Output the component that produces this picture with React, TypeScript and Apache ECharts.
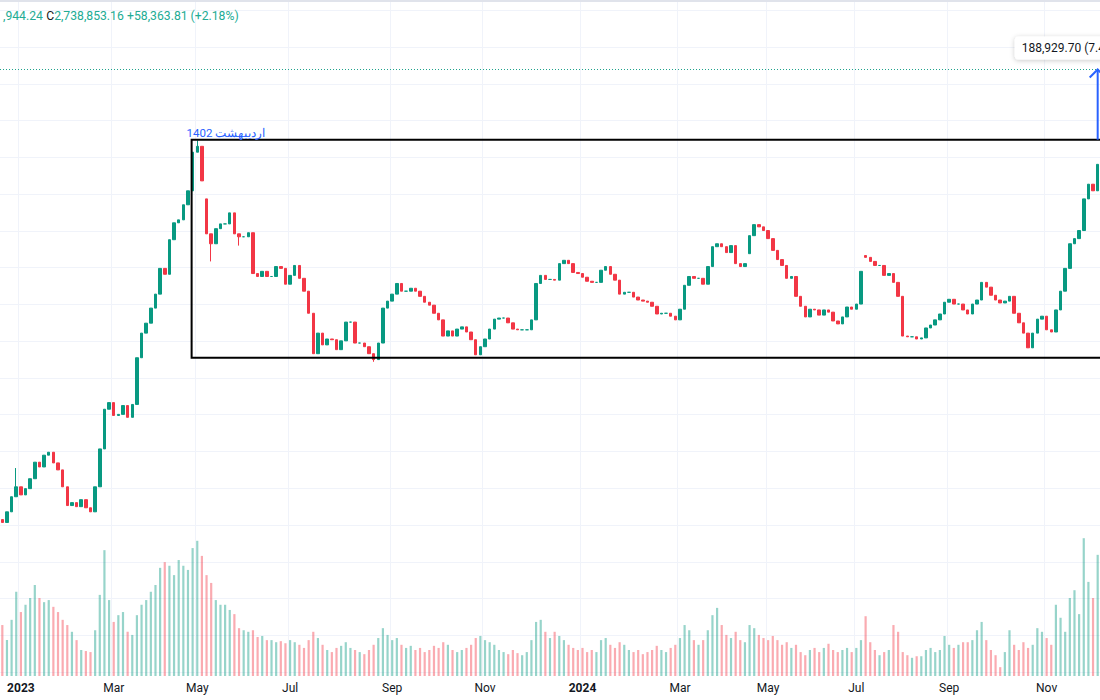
import React, { useEffect, useRef } from "react";
import * as echarts from "echarts";

// Prices are in thousands of index points; one candle = two trading sessions.
const closesK = [
  1507, 1536, 1577, 1604, 1582, 1599, 1626, 1671, 1658, 1690,
  1698, 1669, 1650, 1604, 1553, 1561, 1550, 1569, 1547, 1536,
  1604, 1707, 1815, 1833, 1798, 1801, 1825, 1793, 1828, 1955,
  2022, 2049, 2090, 2128, 2198, 2182, 2276, 2322, 2330, 2371,
  2409, 2514, 2530, 2436, 2292, 2265, 2306, 2319, 2319, 2349,
  2292, 2284, 2284, 2295, 2184, 2176, 2190, 2176, 2176, 2203,
  2198, 2155, 2179, 2206, 2171, 2136, 2076, 1966, 2022, 1990,
  2006, 2004, 1977, 2001, 2052, 2052, 1995, 1995, 1985, 1966,
  1950, 1995, 2090, 2109, 2128, 2157, 2136, 2136, 2144, 2136,
  2122, 2106, 2098, 2076, 2058, 2014, 2028, 2014, 2033, 2039,
  2025, 2004, 1963, 1985, 2006, 2033, 2060, 2063, 2063, 2050,
  2033, 2031, 2031, 2031, 2058, 2157, 2179, 2168, 2168, 2166,
  2211, 2220, 2211, 2187, 2184, 2174, 2163, 2160, 2160, 2193,
  2203, 2182, 2166, 2128, 2133, 2133, 2120, 2112, 2109, 2106,
  2095, 2074, 2076, 2076, 2068, 2058, 2087, 2152, 2176, 2171,
  2171, 2155, 2203, 2257, 2265, 2257, 2241, 2260, 2211, 2203,
  2211, 2287, 2317, 2311, 2301, 2279, 2247, 2222, 2206, 2171,
  2176, 2122, 2095, 2066, 2087, 2085, 2071, 2085, 2079, 2055,
  2047, 2066, 2093, 2087, 2101, 2190, 2228, 2217, 2206, 2206,
  2179, 2184, 2160, 2122, 2014, 2012, 2012, 2006, 2009, 2036,
  2044, 2058, 2074, 2106, 2114, 2101, 2101, 2085, 2074, 2101,
  2112, 2160, 2147, 2125, 2112, 2104, 2109, 2122, 2076, 2050,
  2022, 1982, 2022, 2060, 2068, 2031, 2025, 2085, 2136, 2198,
  2265, 2279, 2301, 2387, 2427, 2409, 2481,
];

// candles whose open is not the previous close (gaps)
const gapOpensK: Record<number, number> = { 0: 1515, 44: 2387, 161: 2238, 186: 2233 };
// visible wicks
const wickHighsK: Record<number, number> = { 3: 1655, 42: 2546 };
const wickLowsK: Record<number, number> = { 45: 2217, 51: 2260, 80: 1944 };

// volume (billions of shares, estimated)
const volumes = [
  9.8, 6.9, 10.8, 16.2, 12.3, 13.7, 15.0, 17.5, 15.0, 14.2,
  14.6, 13.3, 12.3, 10.8, 9.8, 8.5, 6.9, 5.0, 4.8, 4.6,
  8.8, 15.6, 24.2, 14.6, 10.4, 11.7, 12.3, 8.5, 7.9, 11.7,
  13.7, 14.6, 16.2, 17.5, 20.8, 21.9, 21.2, 19.4, 22.3, 21.2,
  20.4, 24.6, 26.0, 23.1, 19.4, 17.9, 14.6, 13.7, 13.7, 12.7,
  11.9, 9.2, 8.8, 8.5, 8.8, 7.5, 7.7, 6.9, 6.9, 6.5,
  6.7, 6.3, 6.9, 6.5, 6.0, 5.4, 6.9, 8.5, 7.3, 6.0,
  5.0, 4.6, 5.4, 5.8, 6.5, 5.4, 5.0, 4.6, 4.2, 5.0,
  6.0, 7.3, 9.2, 7.9, 6.9, 7.3, 6.0, 5.4, 5.8, 5.0,
  5.4, 4.6, 5.0, 5.8, 5.4, 6.5, 6.0, 5.0, 4.6, 5.0,
  5.4, 6.0, 7.3, 7.7, 6.9, 6.5, 6.0, 5.0, 4.6, 4.2,
  5.0, 4.4, 4.0, 4.6, 6.9, 10.4, 10.8, 8.5, 7.3, 8.5,
  7.7, 6.9, 6.0, 5.4, 5.0, 5.4, 4.6, 5.0, 4.6, 6.9,
  7.3, 6.0, 5.4, 6.5, 6.0, 5.0, 4.6, 5.0, 4.2, 4.6,
  5.0, 5.8, 5.0, 4.6, 5.4, 6.0, 7.3, 9.8, 8.8, 6.9,
  6.0, 6.9, 8.8, 11.7, 13.1, 9.8, 7.9, 7.3, 8.5, 6.9,
  6.5, 9.8, 9.2, 7.9, 7.3, 6.9, 7.7, 6.9, 6.0, 6.5,
  5.4, 6.0, 4.6, 4.0, 5.0, 5.4, 4.6, 5.4, 6.2, 5.0,
  4.6, 5.0, 5.4, 4.6, 5.4, 6.9, 11.5, 6.5, 5.0, 4.0,
  4.6, 5.0, 9.8, 8.5, 4.6, 4.0, 3.5, 3.8, 3.8, 5.0,
  5.4, 4.6, 5.0, 7.7, 6.0, 5.4, 6.0, 6.5, 6.5, 6.9,
  8.8, 10.4, 6.9, 5.0, 4.0, 1.7, 4.6, 8.8, 6.0, 5.0,
  6.5, 5.4, 6.0, 9.2, 8.5, 7.3, 6.0, 13.7, 11.2, 8.5,
  15.0, 16.5, 11.9, 26.5, 18.1, 15.0, 23.3,
];

// Tehran exchange calendar
const startDate = "2022-12-20";
const sessionsPerCandle = 2;
const holidays = [
  "2023-02-04", "2023-02-11", "2023-02-18", "2023-03-08", "2023-03-20", "2023-03-21",
  "2023-03-22", "2023-04-01", "2023-04-02", "2023-04-12", "2023-04-22", "2023-05-16",
  "2023-06-04", "2023-06-05", "2023-09-06", "2023-09-16", "2023-09-24", "2023-10-03",
  "2023-12-17", "2024-02-11", "2024-02-25", "2024-03-19", "2024-03-20", "2024-03-23",
  "2024-03-31", "2024-04-01", "2024-04-10", "2024-05-04", "2024-06-03", "2024-06-04",
  "2024-06-17", "2024-06-25", "2024-07-15", "2024-07-16", "2024-08-25", "2024-09-02",
  "2024-09-03", "2024-09-11",
];
const monthNames = ["Jan", "Feb", "Mar", "Apr", "May", "Jun", "Jul", "Aug", "Sep", "Oct", "Nov", "Dec"];

const lastPriceK = 2738.85316;
const boxTopK = 2548;
const boxBottomK = 1955;
const boxStartIndex = 41;
const boxTitle = "1402 اردیبهشت";
const measureText = "188,929.70 (7.41%)";
const headerParts = { low: ",944.24", close: "2,738,853.16", change: "+58,363.81 (+2.18%)" };

const UP = "#089981";
const DOWN = "#f23645";
const FONT = "Roboto, 'Noto Sans', sans-serif";
// the chart canvas starts this far above the page so the price pane can run past the top edge
const SHIFT = 30;

function sessions(count: number): string[] {
  const hol = new Set(holidays);
  const out: string[] = [];
  const d = new Date(startDate + "T00:00:00Z");
  while (out.length < count) {
    const dow = d.getUTCDay();
    const iso = d.toISOString().slice(0, 10);
    if (dow !== 4 && dow !== 5 && !hol.has(iso)) out.push(iso);
    d.setUTCDate(d.getUTCDate() + 1);
  }
  return out;
}

export default function App() {
  const ref = useRef<HTMLDivElement>(null);

  useEffect(() => {
    if (!ref.current) return;
    const chart = echarts.init(ref.current, undefined, { renderer: "svg" });

    const n = closesK.length;
    const days = sessions(n * sessionsPerCandle);
    const cats = closesK.map((_, i) => days[i * sessionsPerCandle]);

    const labels: string[] = cats.map((iso, i) => {
      if (i === 0) return "";
      const m = +iso.slice(5, 7) - 1;
      const pm = +cats[i - 1].slice(5, 7) - 1;
      if (m === pm || m % 2 !== 0) return "";
      return m === 0 ? "{y|" + iso.slice(0, 4) + "}" : "{m|" + monthNames[m] + "}";
    });

    const ohlc = closesK.map((c, i) => {
      const o = gapOpensK[i] !== undefined ? gapOpensK[i] : closesK[i - 1];
      const hi = Math.max(o, c, wickHighsK[i] ?? -Infinity);
      const lo = Math.min(o, c, wickLowsK[i] ?? Infinity);
      return [o, c, lo, hi];
    });

    const volData = volumes.map((v, i) => ({
      value: v,
      itemStyle: { color: ohlc[i][1] >= ohlc[i][0] ? "rgba(8,153,129,0.42)" : "rgba(242,54,69,0.42)" },
    }));

    const showAt = (i: number) => labels[i] !== "";

    chart.setOption({
      animation: false,
      backgroundColor: "#ffffff",
      grid: [
        { left: 0, right: 0, top: SHIFT - 26.5, height: 735.4 },
        { left: 0, right: 0, top: SHIFT, height: 676 },
      ],
      xAxis: [
        { type: "category", gridIndex: 0, data: cats, show: false, boundaryGap: true },
        {
          type: "category",
          gridIndex: 1,
          data: cats,
          boundaryGap: true,
          axisLine: { show: false },
          axisTick: { show: false },
          axisLabel: {
            interval: (i: number) => showAt(i),
            formatter: (_v: string, i: number) => labels[i],
            margin: 6,
            rich: {
              y: { fontWeight: "bold", color: "#131722", fontSize: 12, fontFamily: FONT },
              m: { color: "#131722", fontSize: 12, fontFamily: FONT },
            },
          },
          splitLine: {
            show: true,
            interval: (i: number) => showAt(i),
            lineStyle: { color: "#f0f3fa", width: 1 },
          },
        },
      ],
      yAxis: [
        {
          type: "value",
          gridIndex: 0,
          min: 1000,
          max: 3000,
          interval: 100,
          axisLabel: { show: false },
          axisLine: { show: false },
          axisTick: { show: false },
          splitLine: { show: true, lineStyle: { color: "#f0f3fa", width: 1 } },
        },
        { type: "value", gridIndex: 1, min: 0, max: 130, show: false, splitLine: { show: false } },
      ],
      series: [
        {
          type: "bar",
          xAxisIndex: 1,
          yAxisIndex: 1,
          data: volData,
          barWidth: 2.2,
          z: 1,
        },
        {
          type: "candlestick",
          xAxisIndex: 0,
          yAxisIndex: 0,
          data: ohlc,
          barWidth: 3,
          z: 3,
          itemStyle: { color: UP, color0: DOWN, borderColor: UP, borderColor0: DOWN, borderWidth: 1 },
          markLine: {
            silent: true,
            symbol: "none",
            label: { show: false },
            lineStyle: { type: [1, 2], color: "#089981", width: 1.2, opacity: 0.9 },
            data: [{ yAxis: lastPriceK }],
          },
        },
      ],
    });

    const finder = { xAxisIndex: 0, yAxisIndex: 0 };
    const [bx, by] = chart.convertToPixel(finder, [boxStartIndex, boxTopK]) as number[];
    const [, bb] = chart.convertToPixel(finder, [boxStartIndex, boxBottomK]) as number[];
    const [ax, ay] = chart.convertToPixel(finder, [n - 1, lastPriceK]) as number[];
    const boxLeft = bx - 1;

    chart.setOption({
      graphic: [
        { type: "rect", z: 100, silent: true, shape: { x: 0, y: SHIFT, width: 1100, height: 2 }, style: { fill: "#e0e3eb" } },
        {
          type: "text",
          z: 100,
          silent: true,
          x: 3,
          y: SHIFT + 16,
          style: {
            text: `{v|${headerParts.low}} {c|C}{v|${headerParts.close}} {v|${headerParts.change}}`,
            verticalAlign: "middle",
            rich: {
              v: { fill: "#22ab94", fontSize: 12.2, fontFamily: FONT },
              c: { fill: "#131722", fontSize: 12.2, fontFamily: FONT },
            },
          },
        },
        {
          type: "rect",
          z: 90,
          silent: true,
          shape: { x: boxLeft, y: by, width: 1200 - boxLeft, height: bb - by },
          style: { fill: "none", stroke: "#000000", lineWidth: 2 },
        },
        {
          type: "text",
          z: 100,
          silent: true,
          x: boxLeft - 5,
          y: by - 7,
          style: { text: boxTitle, fill: "#2962ff", fontSize: 11.5, fontFamily: FONT, verticalAlign: "middle" },
        },
        {
          type: "line",
          z: 100,
          silent: true,
          shape: { x1: ax, y1: by, x2: ax, y2: ay + 1 },
          style: { stroke: "#2962ff", lineWidth: 2 },
        },
        {
          type: "polyline",
          z: 100,
          silent: true,
          shape: { points: [[ax - 8, ay + 8], [ax, ay], [ax + 8, ay + 8]] },
          style: { stroke: "#2962ff", lineWidth: 2, fill: "none" },
        },
        {
          type: "rect",
          z: 100,
          silent: true,
          shape: { x: ax - 83, y: ay - 33, width: 120, height: 23, r: 4 },
          style: { fill: "#ffffff", shadowBlur: 5, shadowColor: "rgba(0,0,0,0.22)", shadowOffsetY: 1 },
        },
        {
          type: "text",
          z: 101,
          silent: true,
          x: ax - 76,
          y: ay - 21.5,
          style: { text: measureText, fill: "#131722", fontSize: 12, fontFamily: FONT, verticalAlign: "middle" },
        },
      ],
    });

    return () => chart.dispose();
  }, []);

  return (
    <div
      ref={ref}
      style={{ position: "fixed", left: 0, top: -SHIFT, width: 1100, height: 700 + 2 * SHIFT, background: "#ffffff" }}
    />
  );
}
